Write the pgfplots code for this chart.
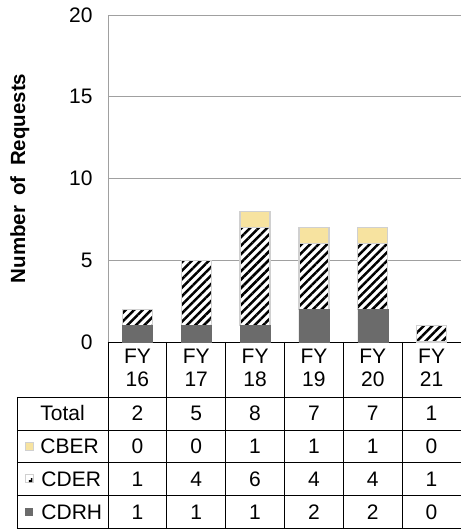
\documentclass[border=0pt]{standalone}
\usepackage{pgfplots}
\pgfplotsset{compat=1.18}
\usepackage{fontspec}
\setmainfont{Liberation Sans}
\usetikzlibrary{patterns.meta,calc}
\definecolor{cdrh}{HTML}{6B6B6B}
\definecolor{cber}{HTML}{F7E3A0}
\definecolor{bord}{HTML}{D0D0D0}
\definecolor{gridc}{HTML}{A0A0A0}
\begin{document}
\begin{tikzpicture}
\begin{axis}[
  scale only axis, width=353pt, height=327pt,
  xmin=-0.5, xmax=5.5, ymin=0, ymax=20,
  ytick={0,5,10,15,20}, xtick=\empty,
  axis y line*=left, axis x line*=bottom,
  y axis line style={gridc, line width=0.8pt},
  x axis line style={black, line width=0.9pt},
  ymajorgrids, grid style={gridc, line width=0.8pt},
  major tick length=0pt,
  ybar stacked, bar width=30pt,
  clip=false,
  /pgf/number format/assume math mode=true,
  yticklabel style={font=\fontsize{21}{24}\selectfont, xshift=-12pt},
  ylabel={Number\hspace{0.5em}of\hspace{0.5em}Requests},
  ylabel style={font=\bfseries\fontsize{20.5}{24}\selectfont, at={(axis description cs:-0.2776,0.5)}, anchor=north, inner sep=0pt},
]
\addplot[fill=cdrh, draw=cdrh] coordinates {(0,1)(1,1)(2,1)(3,2)(4,2)(5,0)};
\addplot[preaction={fill=white}, pattern={Lines[angle=45,distance=6pt,line width=2.5pt]}, pattern color=black, draw=bord, line width=1.2pt] coordinates {(0,1)(1,4)(2,6)(3,4)(4,4)(5,1)};
\addplot[fill=cber, draw=bord, line width=1.2pt] coordinates {(0,0)(1,0)(2,1)(3,1)(4,1)(5,0)};
\coordinate (O) at (axis cs:-0.5,0);
\end{axis}
\begin{scope}[shift={(O)}, x=1pt, y=1pt, line width=0.9pt,
  tx/.style={font=\fontsize{21}{24}\selectfont, inner sep=0pt, text height=15pt, text depth=0pt, anchor=center}]
 \def\cw{58.833}
 \draw (-91,-55) -- (353,-55);
 \foreach \yy in {-88,-120.5,-153,-186} \draw (-91,\yy) -- (353,\yy);
 \draw (-91,-55) -- (-91,-186);
 \foreach \i in {0,...,5} \draw ({\cw*\i},0) -- ({\cw*\i},-186);
 \foreach \lab [count=\i from 0] in {16,17,18,19,20,21} {
   \node[tx] at ({\cw*(\i+0.5)}, -13.8) {FY};
   \node[tx] at ({\cw*(\i+0.5)}, -37) {\lab};
 }
 \foreach \v [count=\i from 0] in {2,5,8,7,7,1} \node[tx] at ({\cw*(\i+0.5)},-71.5) {\v};
 \foreach \v [count=\i from 0] in {0,0,1,1,1,0} \node[tx] at ({\cw*(\i+0.5)},-104) {\v};
 \foreach \v [count=\i from 0] in {1,4,6,4,4,1} \node[tx] at ({\cw*(\i+0.5)},-136.5) {\v};
 \foreach \v [count=\i from 0] in {1,1,1,2,2,0} \node[tx] at ({\cw*(\i+0.5)},-169.5) {\v};
 \node[tx] at (-45.5,-71.5) {Total};
 \node[tx, anchor=west] at (-68,-104) {CBER};
 \node[tx, anchor=west] at (-67,-136.5) {CDER};
 \node[tx, anchor=west] at (-67,-169.5) {CDRH};
 \draw[bord, fill=cber, line width=0.6pt] (-83,-108) rectangle (-75,-100);
 \draw[bord, fill=white, line width=0.6pt] (-83,-140.5) rectangle (-75,-132.5);
 \fill[black] (-75.5,-140) -- (-75.5,-136) -- (-77,-136) -- (-77,-138) -- (-79,-138) -- (-79,-140) -- cycle;
 \fill[cdrh] (-83,-173.5) rectangle (-75,-165.5);
\end{scope}
\pgfresetboundingbox
\path ($(O)+(-108pt,-187pt)$) rectangle ($(O)+(353pt,342pt)$);
\end{tikzpicture}
\end{document}
